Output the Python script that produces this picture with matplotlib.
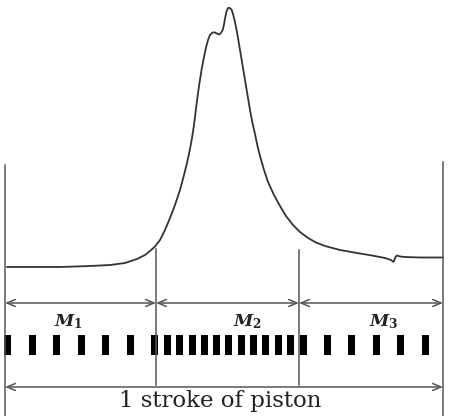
import matplotlib
matplotlib.use("Agg")
import matplotlib.pyplot as plt

# Pressure curve trace (x position, y screen row)
curve_x = [7, 30, 60, 90, 110, 125, 137, 145, 150, 155, 160, 165, 170, 175, 180, 184, 187, 190, 192, 194,
           196.7, 199, 201.7, 204, 206, 208, 210, 212.5, 215, 219, 221, 222.7, 224, 225, 226.5, 228, 230,
           231.7, 233, 235, 237.5, 240, 242.5, 245, 247.5, 250, 252.5, 255, 257.5, 260, 264, 268, 274, 280,
           286, 293, 300, 308, 316, 325, 340, 357, 372, 385, 391, 393.5, 395.5, 397, 400, 405, 420, 443]
curve_y = [267, 267, 267, 266, 265, 263, 259, 255, 251, 246.5, 240, 230, 218, 205, 190, 175, 163, 149, 138, 125,
           103, 86, 69, 57, 47.5, 40, 35, 32.5, 32.5, 34.5, 33, 30, 24.5, 18.5, 11.5, 8, 8,
           10, 14, 22, 35, 50, 65, 80, 95, 110, 123, 134, 146, 156, 170, 182, 195, 206,
           216, 225, 232, 238, 242.5, 246, 250, 253, 255.5, 258, 260, 262, 257, 255.5, 256.5, 257, 257.5, 257.5]

# Boundaries (x) and their top rows
bound_x = [5, 156, 299, 443]
bound_top = [165, 249, 250, 162]
bound_bottom = [416, 385, 385, 416]

# Marker bars (valve pulse) positions
bar_x = [7, 32, 56, 81, 105, 130, 154, 167, 179, 192, 204, 216, 228, 241, 253, 265, 278, 290, 303,
         327, 351, 376, 400, 425]

seg_labels = [r"$M_1$", r"$M_2$", r"$M_3$"]
seg_label_x = [68, 247, 384]
bottom_label = "1 stroke of piston"

plt.rcParams['mathtext.fontset'] = 'custom'
plt.rcParams['mathtext.it'] = 'DejaVu Serif:italic:bold'
plt.rcParams['mathtext.rm'] = 'DejaVu Serif:bold'

fig = plt.figure(figsize=(4.5, 4.16), dpi=100)
ax = fig.add_axes([0, 0, 1, 1])
ax.set_xlim(0, 450)
ax.set_ylim(416, 0)
ax.axis('off')

ax.plot(curve_x, curve_y, color='#333333', lw=1.3, solid_capstyle='round', solid_joinstyle='round')

for x, t, b in zip(bound_x, bound_top, bound_bottom):
    ax.plot([x, x], [t, b], color='#555555', lw=1.1)

arrow_kw = dict(arrowstyle='<->,head_length=0.6,head_width=0.25', color='#555555', lw=1.1,
                shrinkA=0, shrinkB=0)
for i in range(3):
    ax.annotate('', xy=(bound_x[i], 303), xytext=(bound_x[i + 1], 303), arrowprops=arrow_kw)
ax.annotate('', xy=(bound_x[0], 387), xytext=(bound_x[-1], 387), arrowprops=arrow_kw)

ax.bar(bar_x, height=20, bottom=335, width=7, color='black')

for lab, x in zip(seg_labels, seg_label_x):
    ax.text(x, 322, lab, ha='center', va='center', fontsize=12.5, color='#222222')

ax.text(220, 401, bottom_label, ha='center', va='center', fontsize=16.5,
        family='DejaVu Serif', color='#222222')

fig.savefig('out.png', dpi=100)
